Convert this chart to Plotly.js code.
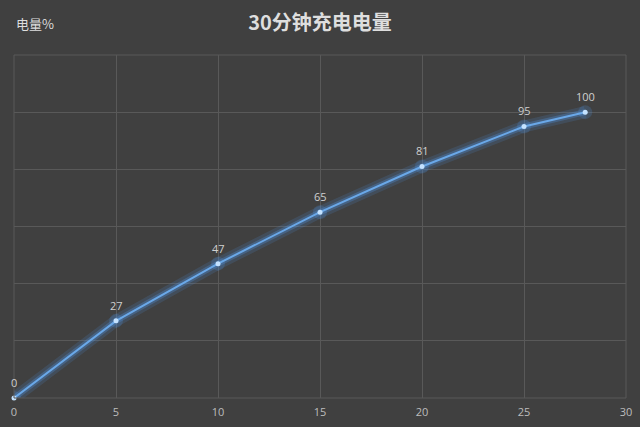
<!DOCTYPE html>
<html>
<head>
<meta charset="utf-8">
<script src="https://cdn.plot.ly/plotly-3.0.1.min.js"></script>
<style>
html, body { margin: 0; padding: 0; background: #404040; }
#chart { width: 640px; height: 427px; }
</style>
</head>
<body>
<div id="chart"></div>
<script>
var minutes = [0, 5, 10, 15, 20, 25, 28];
var charge = [0, 27, 47, 65, 81, 95, 100];
var labels = charge.map(String);

var glowWide = {
	x : minutes,
	y : charge,
	type : 'scatter',
	mode : 'lines+markers',
	hoverinfo : 'skip',
	line : { color : 'rgba(80,150,230,0.16)', width : 12 },
	marker : { color : 'rgba(80,150,230,0.2)', size : 14 }
};

var glow = {
	x : minutes,
	y : charge,
	type : 'scatter',
	mode : 'lines',
	hoverinfo : 'skip',
	line : { color : 'rgba(80,150,230,0.3)', width : 6 }
};

var main = {
	x : minutes,
	y : charge,
	type : 'scatter',
	mode : 'lines+markers',
	cliponaxis : false,
	line : { color : '#6aa8e8', width : 2 },
	marker : { color : '#c4e2ff', size : 5 }
};

// data labels above each point
var pointLabels = minutes.map(function (m, i) {
	return {
		x : m, y : charge[i], text : labels[i],
		xref : 'x', yref : 'y',
		showarrow : false,
		yanchor : 'bottom',
		yshift : 6,
		font : { family : 'Open Sans, DejaVu Sans, sans-serif', size : 11, color : '#d0d0d0' }
	};
});

var layout = {
	width : 640,
	height : 427,
	paper_bgcolor : '#404040',
	plot_bgcolor : '#404040',
	showlegend : false,
	margin : { l : 14, r : 14, t : 55, b : 29 },
	title : {
		text : '<b>30分钟充电电量</b>',
		font : { family : 'Noto Sans CJK SC, sans-serif', size : 20, color : '#dedede' },
		x : 0.5,
		xanchor : 'center',
		y : 0.945,
		yanchor : 'middle'
	},
	xaxis : {
		range : [0, 30],
		dtick : 5,
		showgrid : true,
		gridcolor : '#595959',
		zeroline : false,
		showline : false,
		ticks : 'outside',
		ticklen : 4,
		tickcolor : 'rgba(0,0,0,0)',
		tickfont : { family : 'Open Sans, DejaVu Sans, sans-serif', size : 11, color : '#bdbdbd' },
		fixedrange : true
	},
	yaxis : {
		range : [0, 120],
		dtick : 20,
		showgrid : true,
		gridcolor : '#595959',
		zeroline : false,
		showline : false,
		showticklabels : false,
		fixedrange : true
	},
	shapes : [ {
		type : 'rect', xref : 'paper', yref : 'paper',
		x0 : 0, x1 : 1, y0 : 0, y1 : 1,
		line : { color : '#595959', width : 1 }
	} ],
	annotations : [ {
		text : '电量%',
		xref : 'paper', yref : 'paper',
		x : 0, y : 1,
		xanchor : 'left', yanchor : 'bottom',
		yshift : 20,
		showarrow : false,
		font : { family : 'Noto Sans CJK SC, sans-serif', size : 13, color : '#dedede' }
	} ].concat(pointLabels)
};

Plotly.newPlot('chart', [glowWide, glow, main], layout, { displayModeBar : false, staticPlot : true });
</script>
</body>
</html>
